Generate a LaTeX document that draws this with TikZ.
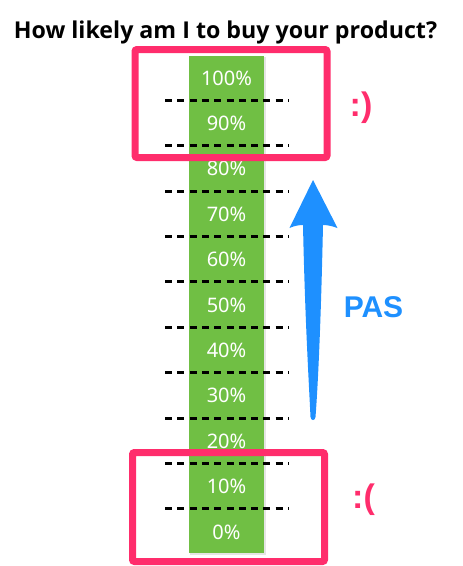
\documentclass[tikz,border=0pt]{standalone}
\usepackage{fontspec}
\setmainfont{Noto Sans}
\newfontfamily\titlefont{Open Sans}
\newfontfamily\pasfont{Liberation Sans}
\definecolor{barg}{RGB}{112,191,68}
\definecolor{boxred}{RGB}{255,45,108}
\definecolor{arrowblue}{RGB}{30,144,255}
\tikzset{
  bar/.style={fill=barg, draw=none, minimum width=75pt, minimum height=497pt, inner sep=0pt},
  frame/.style={draw=boxred, line width=7pt, rounded corners=2pt, minimum width=192pt, inner sep=0pt},
  pct/.style={text=white, font=\fontsize{20}{20}\selectfont, anchor=base, inner sep=0pt},
  tick/.style={dash pattern=on 7pt off 5.3pt, line width=3pt, black},
  face/.style={text=boxred, font=\pasfont\bfseries\fontsize{34}{34}\selectfont, inner sep=0pt},
}
\begin{document}
\begin{tikzpicture}[x=1pt,y=-1pt]
\useasboundingbox (0,0) rectangle (463,566);
% title
\node[anchor=base, inner sep=0pt, font=\titlefont\bfseries\fontsize{23.2}{23.2}\selectfont] (title) at (225.5,38) {How likely am I to buy your product?};
% bar with slight shadow
\fill[black!10] (190,57) rectangle (265.5,554.5);
\node[bar] (bar) at (226.5,304.5) {};
% labels
\foreach \v [count=\i from 0] in {100,90,80,70,60,50,40,30,20,10,0} {
  \node[pct] (p\v) at (226.5,{85+45.4*\i}) {\v\%};
}
% dashed lines
\foreach \i in {0,...,9} {
  \coordinate (l\i) at (165,{100.3+45.4*\i});
  \coordinate (r\i) at (289,{100.3+45.4*\i});
  \draw[tick] (l\i) -- (r\i);
}
% frames
\node[frame, minimum height=108pt] (top) at (231,103.5) {};
\node[frame, minimum height=109pt] (bottom) at (228.5,507) {};
% arrow
\fill[arrowblue] (313,180) -- (289.5,228)
  .. controls (295,225.5) and (300,225) .. (303,225)
  .. controls (305,320) and (309,385) .. (310.5,417)
  .. controls (311,421) and (315,421) .. (315.5,417)
  .. controls (318,385) and (321,320) .. (323,225)
  .. controls (326,225) and (331,225.5) .. (337.5,228) -- cycle;
% PAS label
\node[text=arrowblue, font=\pasfont\bfseries\fontsize{30}{30}\selectfont, inner sep=0pt] (pas) at (373.5,307) {PAS};
% faces
\node[face] (happy) at (361,108) {:)};
\node[face] (sad) at (363.5,500) {:(};
\end{tikzpicture}
\end{document}
